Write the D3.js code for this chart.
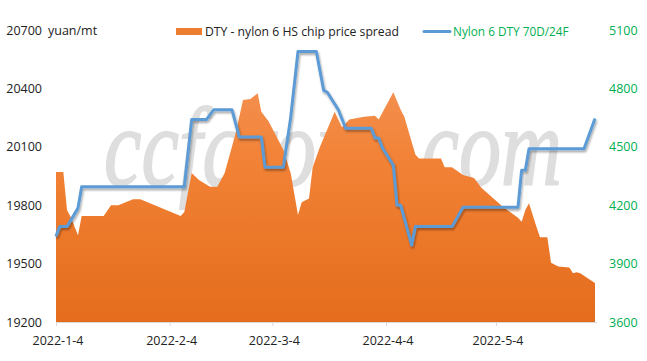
<!DOCTYPE html>
<html>
<head>
<meta charset="utf-8">
<script src="https://cdn.jsdelivr.net/npm/d3@7"></script>
<style>
  html, body { margin: 0; padding: 0; background: #fff; }
  svg { display: block; }
  text { font-family: "Open Sans", "Noto Sans", "Liberation Sans", sans-serif; }
</style>
</head>
<body>
<svg id="chart" width="647" height="361"></svg>
<script>
// ---- Data ----
const spreadDates = ["2022-01-04","2022-01-06","2022-01-07","2022-01-08","2022-01-10","2022-01-11","2022-01-17","2022-01-19","2022-01-21","2022-01-25","2022-01-27","2022-02-07","2022-02-08","2022-02-10","2022-02-12","2022-02-15","2022-02-17","2022-02-19","2022-02-22","2022-02-24","2022-02-26","2022-02-28","2022-03-01","2022-03-03","2022-03-07","2022-03-09","2022-03-11","2022-03-12","2022-03-14","2022-03-15","2022-03-17","2022-03-21","2022-03-23","2022-03-25","2022-03-29","2022-04-01","2022-04-02","2022-04-06","2022-04-08","2022-04-09","2022-04-12","2022-04-13","2022-04-19","2022-04-20","2022-04-22","2022-04-25","2022-04-28","2022-04-30","2022-05-06","2022-05-10","2022-05-11","2022-05-12","2022-05-13","2022-05-15","2022-05-16","2022-05-18","2022-05-19","2022-05-21","2022-05-24","2022-05-25","2022-05-26","2022-05-27","2022-05-29","2022-05-31"];
const spreadValues = [4370,4370,4175,4140,4045,4145,4145,4200,4200,4230,4230,4145,4165,4365,4330,4295,4295,4365,4570,4740,4745,4775,4680,4630,4485,4365,4150,4215,4235,4395,4500,4680,4600,4640,4655,4660,4640,4780,4690,4655,4460,4440,4440,4395,4395,4355,4340,4290,4190,4135,4115,4175,4210,4090,4035,4035,3905,3885,3880,3850,3855,3850,3825,3800];

const priceDates = ["2022-01-04","2022-01-05","2022-01-07","2022-01-10","2022-01-11","2022-02-08","2022-02-10","2022-02-14","2022-02-16","2022-02-21","2022-02-23","2022-03-01","2022-03-02","2022-03-07","2022-03-09","2022-03-11","2022-03-16","2022-03-18","2022-03-19","2022-03-22","2022-03-24","2022-03-31","2022-04-01","2022-04-02","2022-04-03","2022-04-06","2022-04-07","2022-04-08","2022-04-11","2022-04-12","2022-04-22","2022-04-25","2022-05-10","2022-05-11","2022-05-12","2022-05-13","2022-05-28","2022-05-31"];
const priceValues = [19640,19690,19690,19785,19895,19895,20240,20240,20290,20290,20150,20150,19995,19995,20250,20590,20590,20390,20380,20290,20195,20195,20145,20145,20095,20005,19800,19800,19595,19690,19690,19790,19790,19980,19980,20090,20090,20245];

const leftTicks = [19200,19500,19800,20100,20400,20700];
const rightTicks = [3600,3900,4200,4500,4800,5100];
const xTickDates = ["2022-01-04","2022-02-04","2022-03-04","2022-04-04","2022-05-04"];
const xTickLabels = ["2022-1-4","2022-2-4","2022-3-4","2022-4-4","2022-5-4"];

// ---- Layout ----
const svg = d3.select("#chart");
const parse = d3.timeParse("%Y-%m-%d");
const x = d3.scaleTime().domain([parse("2022-01-04"), parse("2022-05-31")]).range([56, 595]);
const yL = d3.scaleLinear().domain([19200, 20700]).range([322, 30]);
const yR = d3.scaleLinear().domain([3600, 5100]).range([322, 30]);

const defs = svg.append("defs");
const grad = defs.append("linearGradient").attr("id", "areaGrad")
  .attr("gradientUnits", "userSpaceOnUse").attr("x1", 0).attr("y1", 30).attr("x2", 0).attr("y2", 322);
grad.append("stop").attr("offset", "0%").attr("stop-color", "#F49A62");
grad.append("stop").attr("offset", "45%").attr("stop-color", "#F28236");
grad.append("stop").attr("offset", "100%").attr("stop-color", "#E46C1C");

const shadow = defs.append("filter").attr("id", "shadow").attr("x", "-10%").attr("y", "-10%").attr("width", "120%").attr("height", "130%");
shadow.append("feDropShadow").attr("dx", 1).attr("dy", 2).attr("stdDeviation", 1.2)
  .attr("flood-color", "#000").attr("flood-opacity", 0.35);

svg.append("rect").attr("width", 647).attr("height", 361).attr("fill", "#fff");

// watermark (scaled horizontally so its box is the drawn width)
const wm = svg.append("text").text("ccfgroup.com")
  .attr("x", 0).attr("y", 0)
  .style("font-family", "'Liberation Serif', 'DejaVu Serif', serif")
  .style("font-style", "italic").style("font-size", "112px")
  .attr("fill", "#DEDEDE").attr("stroke", "#DEDEDE").attr("stroke-width", 1.8);
const wmW = wm.node().getComputedTextLength() || 560;
wm.attr("transform", `translate(104,185) scale(${458 / wmW},1)`);

// area (spread, right axis)
const spread = spreadDates.map((d, i) => ({ d: parse(d), v: spreadValues[i] }));
const area = d3.area().x(p => x(p.d)).y0(yR(3600)).y1(p => yR(p.v));
svg.append("path").datum(spread).attr("d", area).attr("fill", "url(#areaGrad)");

// x axis
const xAxis = svg.append("g").attr("transform", "translate(0,322)")
  .call(d3.axisBottom(x).tickValues(xTickDates.map(parse)).tickSize(4)
    .tickFormat((d, i) => xTickLabels[i]));
xAxis.select(".domain").attr("stroke", "#D9D9D9").attr("d", "M56,0.5H597");
xAxis.selectAll(".tick line").attr("stroke", "#D9D9D9");
xAxis.selectAll(".tick text").attr("fill", "#222").attr("dy", "1.25em").attr("dx", "1.5")
  .style("font-size", "12.5px").style("font-family", "'Open Sans', sans-serif");

// left axis labels
const lAxis = svg.append("g").attr("transform", "translate(42,0)")
  .call(d3.axisLeft(yL).tickValues(leftTicks).tickSize(0).tickPadding(0).tickFormat(d3.format("d")));
lAxis.select(".domain").remove();
lAxis.selectAll("text").attr("fill", "#222").style("font-size", "12.5px");

// right axis labels
const rAxis = svg.append("g").attr("transform", "translate(609,0)")
  .call(d3.axisRight(yR).tickValues(rightTicks).tickSize(0).tickPadding(0).tickFormat(d3.format("d")));
rAxis.select(".domain").remove();
rAxis.selectAll("text").attr("fill", "#00B050").style("font-size", "12.5px");

// line (DTY price, left axis)
const price = priceDates.map((d, i) => ({ d: parse(d), v: priceValues[i] }));
const line = d3.line().x(p => x(p.d)).y(p => yL(p.v));
svg.append("path").datum(price).attr("d", line)
  .attr("fill", "none").attr("stroke", "#5B9BD5").attr("stroke-width", 3)
  .attr("stroke-linejoin", "round").attr("filter", "url(#shadow)");

// unit label
svg.append("text").text("yuan/mt").attr("x", 48).attr("y", 35)
  .attr("fill", "#222").style("font-size", "12.5px");

// legend
svg.append("rect").attr("x", 176).attr("y", 28).attr("width", 26).attr("height", 7).attr("fill", "#ED7D31");
svg.append("text").text("DTY - nylon 6 HS chip price spread").attr("x", 205).attr("y", 36)
  .attr("fill", "#222").style("font-size", "12.2px");
svg.append("line").attr("x1", 424).attr("x2", 450).attr("y1", 31.5).attr("y2", 31.5)
  .attr("stroke", "#5B9BD5").attr("stroke-width", 3).attr("stroke-linecap", "round");
svg.append("text").text("Nylon 6 DTY 70D/24F").attr("x", 453).attr("y", 36)
  .attr("fill", "#00B050").style("font-size", "11.8px");
</script>
</body>
</html>
